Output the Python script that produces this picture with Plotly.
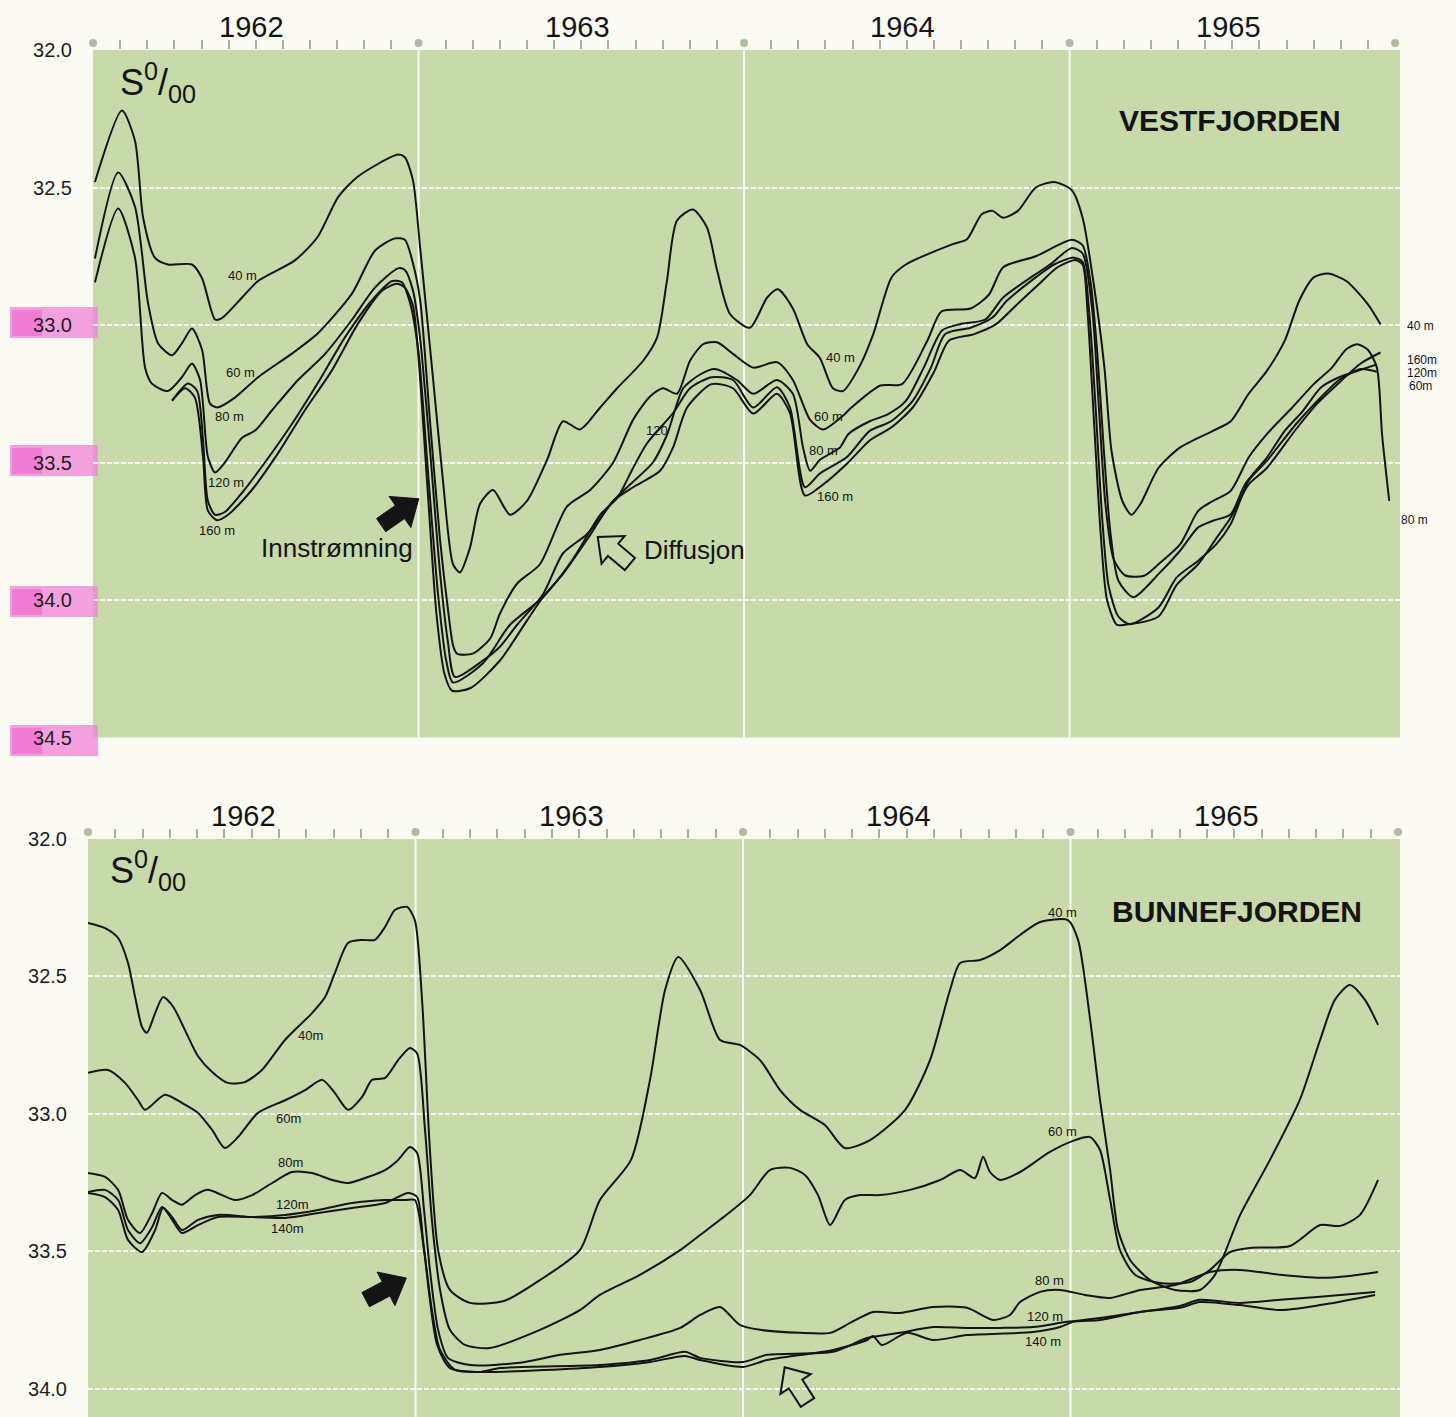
import numpy as np
import plotly.graph_objects as go

W, H = 1456, 1417
INK = "#141414"
PAPER = "#fbfbf4"
FIELD = "#c8d9aa"
GRID = "rgba(255,255,255,0.92)"
TICK = "#a7b29a"
DOT = "#aebd9f"
FONT = "Liberation Sans, Arial, Helvetica, sans-serif"

year_labels = ["1962", "1963", "1964", "1965"]
year_edges = [1962, 1963, 1964, 1965, 1966]

# ---------------- Vestfjorden: salinity (S per mille) by depth, time in decimal years
vest_40_t = [1962.006, 1962.089, 1962.129, 1962.154, 1962.190, 1962.230, 1962.304, 1962.335, 1962.375, 1962.396,
             1962.458, 1962.507, 1962.620, 1962.690, 1962.753, 1962.814, 1962.937, 1962.958, 1962.983, 1963.005,
             1963.045, 1963.075, 1963.106, 1963.127, 1963.158, 1963.189, 1963.229, 1963.281, 1963.333, 1963.395,
             1963.444, 1963.496, 1963.558, 1963.610, 1963.690, 1963.733, 1963.763, 1963.794, 1963.843, 1963.886,
             1963.917, 1963.957, 1964.018, 1964.071, 1964.104, 1964.150, 1964.194, 1964.233, 1964.273, 1964.304,
             1964.353, 1964.397, 1964.453, 1964.497, 1964.641, 1964.685, 1964.730, 1964.763, 1964.796, 1964.841,
             1964.896, 1964.952, 1965.007, 1965.040, 1965.074, 1965.107, 1965.129, 1965.162, 1965.190, 1965.218,
             1965.273, 1965.340, 1965.440, 1965.495, 1965.550, 1965.606, 1965.661, 1965.706, 1965.750, 1965.794,
             1965.850, 1965.916, 1965.955]
vest_40_s = [32.48, 32.22, 32.33, 32.61, 32.755, 32.78, 32.78, 32.83, 32.98, 32.975,
             32.90, 32.84, 32.765, 32.68, 32.535, 32.46, 32.38, 32.39, 32.475, 32.72,
             33.20, 33.565, 33.87, 33.90, 33.81, 33.65, 33.60, 33.69, 33.64, 33.49,
             33.35, 33.38, 33.30, 33.23, 33.13, 33.045, 32.84, 32.62, 32.58, 32.645,
             32.80, 32.96, 33.01, 32.90, 32.87, 32.94, 33.07, 33.12, 33.23, 33.24,
             33.155, 33.033, 32.827, 32.78, 32.706, 32.688, 32.597, 32.585, 32.61, 32.585,
             32.50, 32.48, 32.51, 32.61, 32.85, 33.155, 33.46, 33.64, 33.69, 33.65,
             33.52, 33.445, 33.385, 33.35, 33.25, 33.167, 33.057, 32.91, 32.827, 32.813,
             32.84, 32.924, 32.997]

vest_60_t = [1962.006, 1962.077, 1962.129, 1962.169, 1962.200, 1962.243, 1962.273, 1962.304, 1962.335, 1962.359,
             1962.381, 1962.436, 1962.507, 1962.611, 1962.691, 1962.796, 1962.866, 1962.928, 1962.958, 1962.983,
             1963.005, 1963.035, 1963.066, 1963.091, 1963.106, 1963.118, 1963.167, 1963.220, 1963.250, 1963.303,
             1963.373, 1963.456, 1963.527, 1963.598, 1963.659, 1963.711, 1963.751, 1963.794, 1963.834, 1963.874,
             1963.917, 1963.966, 1964.028, 1964.101, 1964.150, 1964.203, 1964.243, 1964.304, 1964.330, 1964.419,
             1964.485, 1964.563, 1964.607, 1964.696, 1964.752, 1964.796, 1964.896, 1965.007, 1965.040, 1965.065,
             1965.085, 1965.105, 1965.125, 1965.150, 1965.196, 1965.273, 1965.340, 1965.395, 1965.440, 1965.495,
             1965.539, 1965.606, 1965.661, 1965.717, 1965.772, 1965.828, 1965.883, 1965.944]
vest_60_s = [32.758, 32.445, 32.57, 32.92, 33.067, 33.11, 33.067, 33.013, 33.09, 33.285,
             33.30, 33.264, 33.19, 33.104, 33.03, 32.885, 32.73, 32.685, 32.69, 32.776,
             32.91, 33.346, 33.78, 34.04, 34.165, 34.195, 34.195, 34.14, 34.05, 33.94,
             33.87, 33.66, 33.60, 33.50, 33.345, 33.26, 33.23, 33.25, 33.13, 33.07,
             33.063, 33.105, 33.155, 33.135, 33.20, 33.345, 33.38, 33.33, 33.30, 33.22,
             33.215, 33.057, 32.95, 32.94, 32.89, 32.79, 32.75, 32.69, 32.71, 32.85,
             33.10, 33.45, 33.75, 33.93, 33.99, 33.906, 33.82, 33.736, 33.712, 33.688,
             33.579, 33.482, 33.385, 33.312, 33.227, 33.19, 33.167, 33.143]

vest_80_t = [1962.006, 1962.077, 1962.129, 1962.160, 1962.181, 1962.230, 1962.273, 1962.304, 1962.329, 1962.353,
             1962.375, 1962.405, 1962.458, 1962.498, 1962.550, 1962.630, 1962.713, 1962.796, 1962.866, 1962.937,
             1962.958, 1962.983, 1963.005, 1963.035, 1963.066, 1963.090, 1963.112, 1963.198, 1963.250, 1963.303,
             1963.382, 1963.444, 1963.518, 1963.598, 1963.659, 1963.720, 1963.763, 1963.813, 1963.865, 1963.910,
             1963.978, 1964.028, 1964.101, 1964.150, 1964.181, 1964.203, 1964.233, 1964.295, 1964.320, 1964.386,
             1964.441, 1964.497, 1964.552, 1964.608, 1964.663, 1964.741, 1964.796, 1964.896, 1964.940, 1965.007,
             1965.040, 1965.070, 1965.090, 1965.110, 1965.135, 1965.170, 1965.229, 1965.273, 1965.340, 1965.395,
             1965.440, 1965.495, 1965.550, 1965.606, 1965.684, 1965.750, 1965.806, 1965.850, 1965.883, 1965.916,
             1965.944, 1965.960, 1965.982]
vest_80_s = [32.845, 32.576, 32.755, 33.155, 33.213, 33.24, 33.19, 33.14, 33.20, 33.48,
             33.536, 33.50, 33.41, 33.384, 33.31, 33.20, 33.105, 32.98, 32.864, 32.794,
             32.80, 32.875, 33.05, 33.45, 33.90, 34.15, 34.28, 34.22, 34.17, 34.09,
             33.98, 33.83, 33.76, 33.64, 33.57, 33.50, 33.40, 33.23, 33.18, 33.16,
             33.20, 33.25, 33.20, 33.25, 33.445, 33.53, 33.49, 33.445, 33.397, 33.35,
             33.325, 33.276, 33.155, 33.02, 32.997, 32.98, 32.90, 32.815, 32.78, 32.72,
             32.74, 32.95, 33.30, 33.65, 33.85, 33.91, 33.912, 33.87, 33.797, 33.676,
             33.64, 33.603, 33.482, 33.397, 33.30, 33.215, 33.155, 33.088, 33.07, 33.09,
             33.155, 33.40, 33.64]

vest_120_t = [1962.243, 1962.292, 1962.320, 1962.338, 1962.353, 1962.375, 1962.405, 1962.458, 1962.528, 1962.611,
              1962.691, 1962.774, 1962.857, 1962.919, 1962.949, 1962.974, 1963.000, 1963.030, 1963.060, 1963.085,
              1963.106, 1963.198, 1963.281, 1963.382, 1963.475, 1963.558, 1963.610, 1963.659, 1963.702, 1963.782,
              1963.834, 1963.900, 1963.966, 1964.028, 1964.101, 1964.141, 1964.187, 1964.233, 1964.316, 1964.386,
              1964.452, 1964.518, 1964.574, 1964.618, 1964.696, 1964.763, 1964.807, 1964.896, 1964.952, 1965.013,
              1965.040, 1965.060, 1965.080, 1965.100, 1965.120, 1965.150, 1965.185, 1965.273, 1965.329, 1965.395,
              1965.451, 1965.495, 1965.550, 1965.606, 1965.695, 1965.761, 1965.828, 1965.894, 1965.944]
vest_120_s = [33.275, 33.213, 33.24, 33.42, 33.64, 33.69, 33.68, 33.61, 33.50, 33.36,
              33.21, 33.045, 32.91, 32.84, 32.845, 32.92, 33.10, 33.55, 33.98, 34.22,
              34.30, 34.23, 34.09, 33.99, 33.85, 33.69, 33.63, 33.52, 33.43, 33.32,
              33.23, 33.19, 33.20, 33.30, 33.226, 33.30, 33.59, 33.54, 33.48, 33.385,
              33.35, 33.276, 33.155, 33.033, 33.01, 32.973, 32.912, 32.827, 32.78, 32.755,
              32.77, 32.95, 33.30, 33.70, 33.95, 34.06, 34.088, 34.027, 33.918, 33.857,
              33.797, 33.724, 33.566, 33.494, 33.361, 33.276, 33.20, 33.16, 33.17]

vest_160_t = [1962.243, 1962.283, 1962.313, 1962.338, 1962.353, 1962.381, 1962.415, 1962.488, 1962.568, 1962.651,
              1962.734, 1962.814, 1962.888, 1962.934, 1962.958, 1962.983, 1963.000, 1963.028, 1963.055, 1963.080,
              1963.103, 1963.160, 1963.250, 1963.333, 1963.382, 1963.444, 1963.518, 1963.598, 1963.659, 1963.742,
              1963.782, 1963.825, 1963.900, 1963.966, 1964.028, 1964.101, 1964.141, 1964.187, 1964.243, 1964.320,
              1964.386, 1964.452, 1964.518, 1964.585, 1964.629, 1964.707, 1964.774, 1964.829, 1964.907, 1964.963,
              1965.018, 1965.040, 1965.055, 1965.075, 1965.095, 1965.115, 1965.145, 1965.170, 1965.273, 1965.329,
              1965.395, 1965.451, 1965.495, 1965.550, 1965.606, 1965.695, 1965.761, 1965.828, 1965.894, 1965.955]
vest_160_s = [33.275, 33.23, 33.264, 33.48, 33.675, 33.71, 33.69, 33.60, 33.467, 33.31,
              33.165, 32.995, 32.875, 32.85, 32.864, 32.93, 33.12, 33.60, 34.05, 34.27,
              34.33, 34.32, 34.22, 34.075, 33.99, 33.905, 33.78, 33.64, 33.59, 33.53,
              33.445, 33.30, 33.215, 33.23, 33.322, 33.25, 33.32, 33.62, 33.58, 33.50,
              33.42, 33.373, 33.30, 33.167, 33.057, 33.033, 32.997, 32.936, 32.85, 32.79,
              32.764, 32.78, 32.95, 33.35, 33.75, 34.00, 34.09, 34.09, 34.06, 33.945,
              33.87, 33.775, 33.70, 33.58, 33.52, 33.38, 33.285, 33.21, 33.14, 33.10]

# ---------------- Bunnefjorden
bunne_40_t = [1962.000, 1962.052, 1962.092, 1962.122, 1962.144, 1962.165, 1962.180, 1962.205, 1962.229, 1962.260,
              1962.296, 1962.336, 1962.379, 1962.427, 1962.479, 1962.531, 1962.602, 1962.684, 1962.724, 1962.754,
              1962.794, 1962.837, 1962.876, 1962.907, 1962.937, 1962.974, 1962.998, 1963.020, 1963.044, 1963.069,
              1963.105, 1963.166, 1963.270, 1963.380, 1963.502, 1963.563, 1963.658, 1963.716, 1963.762, 1963.802,
              1963.869, 1963.930, 1963.990, 1964.052, 1964.113, 1964.174, 1964.250, 1964.311, 1964.388, 1964.495,
              1964.571, 1964.632, 1964.663, 1964.724, 1964.785, 1964.846, 1964.907, 1964.992, 1965.023, 1965.060,
              1965.090, 1965.121, 1965.145, 1965.182, 1965.243, 1965.319, 1965.395, 1965.441, 1965.518, 1965.609,
              1965.700, 1965.762, 1965.807, 1965.853, 1965.899, 1965.939]
bunne_40_s = [32.305, 32.324, 32.36, 32.45, 32.575, 32.684, 32.705, 32.633, 32.575, 32.61,
              32.695, 32.79, 32.847, 32.887, 32.884, 32.84, 32.73, 32.633, 32.575, 32.487,
              32.378, 32.367, 32.367, 32.32, 32.258, 32.247, 32.295, 32.585, 33.131, 33.495,
              33.64, 33.687, 33.68, 33.604, 33.495, 33.313, 33.167, 32.876, 32.549, 32.429,
              32.549, 32.731, 32.749, 32.804, 32.913, 32.985, 33.04, 33.124, 33.095, 32.985,
              32.804, 32.549, 32.451, 32.44, 32.404, 32.349, 32.302, 32.295, 32.367, 32.658,
              32.949, 33.204, 33.422, 33.531, 33.604, 33.64, 33.64, 33.585, 33.367, 33.167,
              32.949, 32.731, 32.585, 32.531, 32.585, 32.676]

bunne_60_t = [1962.000, 1962.061, 1962.113, 1962.153, 1962.174, 1962.235, 1962.287, 1962.336, 1962.379, 1962.418,
              1962.458, 1962.519, 1962.602, 1962.663, 1962.715, 1962.754, 1962.794, 1962.837, 1962.867, 1962.907,
              1962.947, 1962.983, 1963.005, 1963.029, 1963.050, 1963.075, 1963.105, 1963.151, 1963.227, 1963.380,
              1963.502, 1963.563, 1963.685, 1963.808, 1963.869, 1963.930, 1964.021, 1964.082, 1964.144, 1964.189,
              1964.229, 1964.266, 1964.311, 1964.357, 1964.418, 1964.510, 1964.602, 1964.663, 1964.708, 1964.733,
              1964.754, 1964.785, 1964.846, 1964.937, 1965.014, 1965.060, 1965.090, 1965.121, 1965.151, 1965.197,
              1965.273, 1965.365, 1965.426, 1965.487, 1965.548, 1965.670, 1965.762, 1965.823, 1965.884, 1965.939]
bunne_60_s = [32.85, 32.84, 32.887, 32.95, 32.985, 32.93, 32.96, 32.996, 33.058, 33.124,
              33.084, 32.996, 32.95, 32.913, 32.876, 32.924, 32.985, 32.938, 32.876, 32.869,
              32.804, 32.76, 32.78, 33.058, 33.385, 33.64, 33.785, 33.84, 33.851, 33.785,
              33.713, 33.658, 33.585, 33.495, 33.44, 33.385, 33.295, 33.204, 33.196, 33.222,
              33.295, 33.404, 33.313, 33.295, 33.295, 33.276, 33.24, 33.204, 33.233, 33.156,
              33.211, 33.24, 33.211, 33.138, 33.095, 33.084, 33.131, 33.313, 33.495, 33.585,
              33.615, 33.611, 33.567, 33.502, 33.487, 33.48, 33.404, 33.407, 33.367, 33.24]

bunne_80_t = [1962.000, 1962.052, 1962.092, 1962.122, 1962.159, 1962.196, 1962.226, 1962.257, 1962.287, 1962.327,
              1962.366, 1962.409, 1962.449, 1962.501, 1962.562, 1962.623, 1962.684, 1962.745, 1962.794, 1962.855,
              1962.907, 1962.947, 1962.983, 1963.005, 1963.026, 1963.044, 1963.069, 1963.099, 1963.166, 1963.319,
              1963.441, 1963.563, 1963.685, 1963.808, 1963.869, 1963.930, 1963.990, 1964.052, 1964.174, 1964.266,
              1964.327, 1964.397, 1964.479, 1964.580, 1964.684, 1964.763, 1964.815, 1964.846, 1964.907, 1964.968,
              1965.044, 1965.121, 1965.212, 1965.319, 1965.426, 1965.518, 1965.640, 1965.762, 1965.853, 1965.939]
bunne_80_s = [33.215, 33.229, 33.276, 33.385, 33.433, 33.36, 33.287, 33.313, 33.33, 33.295,
              33.276, 33.295, 33.313, 33.295, 33.251, 33.211, 33.215, 33.24, 33.251, 33.229,
              33.204, 33.167, 33.12, 33.142, 33.349, 33.567, 33.785, 33.887, 33.913, 33.905,
              33.876, 33.858, 33.822, 33.778, 33.731, 33.702, 33.767, 33.785, 33.796, 33.796,
              33.76, 33.72, 33.724, 33.702, 33.705, 33.749, 33.731, 33.684, 33.647, 33.64,
              33.658, 33.669, 33.64, 33.622, 33.575, 33.567, 33.585, 33.596, 33.589, 33.575]

bunne_120_t = [1962.000, 1962.052, 1962.092, 1962.122, 1962.159, 1962.196, 1962.226, 1962.257, 1962.287, 1962.336,
               1962.397, 1962.501, 1962.602, 1962.703, 1962.806, 1962.907, 1962.977, 1963.005, 1963.023, 1963.044,
               1963.066, 1963.105, 1963.197, 1963.258, 1963.563, 1963.716, 1963.823, 1963.869, 1964.000, 1964.073,
               1964.275, 1964.379, 1964.479, 1964.580, 1964.684, 1964.785, 1964.885, 1964.989, 1965.090, 1965.212,
               1965.334, 1965.395, 1965.518, 1965.640, 1965.762, 1965.930]
bunne_120_s = [33.284, 33.276, 33.313, 33.422, 33.47, 33.411, 33.338, 33.375, 33.422, 33.385,
               33.367, 33.375, 33.378, 33.36, 33.342, 33.324, 33.287, 33.302, 33.458, 33.676,
               33.84, 33.924, 33.938, 33.924, 33.913, 33.895, 33.865, 33.887, 33.902, 33.876,
               33.865, 33.815, 33.796, 33.775, 33.778, 33.778, 33.775, 33.756, 33.742, 33.72,
               33.698, 33.676, 33.687, 33.676, 33.665, 33.647]

bunne_140_t = [1962.000, 1962.052, 1962.092, 1962.122, 1962.165, 1962.205, 1962.229, 1962.257, 1962.287, 1962.336,
               1962.397, 1962.501, 1962.602, 1962.703, 1962.806, 1962.907, 1962.968, 1962.998, 1963.026, 1963.050,
               1963.075, 1963.121, 1963.227, 1963.563, 1963.716, 1963.823, 1963.869, 1964.000, 1964.073, 1964.275,
               1964.379, 1964.397, 1964.424, 1964.501, 1964.580, 1964.684, 1964.885, 1964.968, 1965.008, 1965.090,
               1965.212, 1965.334, 1965.395, 1965.518, 1965.640, 1965.762, 1965.930]
bunne_140_s = [33.287, 33.302, 33.349, 33.458, 33.502, 33.422, 33.342, 33.385, 33.433, 33.404,
               33.375, 33.375, 33.367, 33.349, 33.324, 33.313, 33.313, 33.313, 33.495, 33.713,
               33.858, 33.931, 33.938, 33.92, 33.902, 33.88, 33.895, 33.92, 33.895, 33.858,
               33.822, 33.807, 33.84, 33.796, 33.822, 33.804, 33.793, 33.775, 33.756, 33.749,
               33.72, 33.705, 33.684, 33.695, 33.713, 33.695, 33.658]

vest_ticks = [32.0, 32.5, 33.0, 33.5, 34.0, 34.5]
bunne_ticks = [32.0, 32.5, 33.0, 33.5, 34.0]

# panel geometry in pixels: (left, right, top of field, bottom of field, x-range end, dot row)
VEST_BOX = dict(left=93, right=1400, top=50, bottom=737.5, xmax=1966.015, dot_row=43)
BUNNE_BOX = dict(left=88, right=1400, top=839, bottom=H, xmax=1966.006, dot_row=832)

fig = go.Figure()


def curve(t, s, xa, ya):
    fig.add_trace(go.Scatter(
        x=t, y=s, xaxis=xa, yaxis=ya, mode="lines",
        line=dict(color=INK, width=2.0, shape="spline", smoothing=0.7),
        hoverinfo="skip", showlegend=False))


for t, s in [(vest_40_t, vest_40_s), (vest_60_t, vest_60_s), (vest_80_t, vest_80_s),
             (vest_120_t, vest_120_s), (vest_160_t, vest_160_s)]:
    curve(t, s, "x", "y")
for t, s in [(bunne_40_t, bunne_40_s), (bunne_60_t, bunne_60_s), (bunne_80_t, bunne_80_s),
             (bunne_120_t, bunne_120_s), (bunne_140_t, bunne_140_s)]:
    curve(t, s, "x2", "y2")

month_ticks = [1962 + m / 12 for m in range(1, 48) if m % 12]


def time_axis(box, anchor):
    return dict(domain=[box["left"] / W, box["right"] / W], range=[1962, box["xmax"]], anchor=anchor,
                side="top", tickmode="array", tickvals=month_ticks, ticks="outside", ticklen=9,
                tickwidth=1.5, tickcolor=TICK, showticklabels=False, automargin=False,
                showgrid=False, zeroline=False, showline=False, fixedrange=True)


def sal_axis(box, rng, anchor, vals):
    return dict(domain=[1 - box["bottom"] / H, 1 - box["top"] / H], range=rng, anchor=anchor,
                automargin=False, tickmode="array", tickvals=vals,
                ticktext=[f"{v:.1f}" for v in vals],
                ticks="outside", ticklen=16, tickcolor="rgba(0,0,0,0)",
                tickfont=dict(family=FONT, size=20, color="#1d1d1d"),
                showgrid=True, gridcolor=GRID, gridwidth=1.5, griddash="5px,2px",
                zeroline=False, showline=False, fixedrange=True)


shapes = []
# year separators
for yr in [1963, 1964, 1965]:
    for xa, ya in [("x", "y"), ("x2", "y2")]:
        shapes.append(dict(type="line", xref=xa, yref=ya + " domain", x0=yr, x1=yr, y0=0, y1=1,
                           line=dict(color=GRID, width=2), layer="below"))

# round markers at the year boundaries of each time scale
for box in (VEST_BOX, BUNNE_BOX):
    span = box["right"] - box["left"]
    for yr in year_edges:
        cx = box["left"] + (yr - 1962) / (box["xmax"] - 1962) * span
        cy = box["dot_row"]
        shapes.append(dict(type="circle", xref="paper", yref="paper",
                           x0=(cx - 4) / W, x1=(cx + 4) / W, y0=1 - (cy + 4) / H, y1=1 - (cy - 4) / H,
                           fillcolor=DOT, line=dict(width=0), layer="above"))

# highlighter marks behind the upper panel's labels (pixel rows of the label centres)
for py in [322, 460, 601, 740]:
    shapes.append(dict(type="rect", xref="paper", yref="paper", x0=10 / W, x1=98 / W,
                       y0=1 - (py + 16) / H, y1=1 - (py - 15) / H, fillcolor="rgba(242,130,215,0.75)",
                       line=dict(width=0), layer="below"))
    shapes.append(dict(type="rect", xref="paper", yref="paper", x0=12 / W, x1=42 / W,
                       y0=1 - (py + 14) / H, y1=1 - (py - 12) / H, fillcolor="rgba(236,70,195,0.4)",
                       line=dict(width=0), layer="below"))


def block_arrow(angle, length=46, shaft=8, head=19, head_len=23):
    pts = [(-length / 2, -shaft), (length / 2 - head_len, -shaft), (length / 2 - head_len, -head),
           (length / 2, 0), (length / 2 - head_len, head), (length / 2 - head_len, shaft),
           (-length / 2, shaft)]
    a = np.radians(angle)
    rot = [(x * np.cos(a) - y * np.sin(a), x * np.sin(a) + y * np.cos(a)) for x, y in pts]
    return "M " + " L ".join(f"{x:.1f},{y:.1f}" for x, y in rot) + " Z"


def arrow_shape(xa, ya, xc, yc, angle, filled, **kw):
    return dict(type="path", xref=xa, yref=ya, xsizemode="pixel", ysizemode="pixel",
                xanchor=xc, yanchor=yc, path=block_arrow(angle, **kw),
                fillcolor=INK if filled else "rgba(0,0,0,0)",
                line=dict(color=INK, width=1 if filled else 2), layer="above")


shapes.append(arrow_shape("x", "y", 1962.943, 33.68, 35, True))
shapes.append(arrow_shape("x", "y", 1963.600, 33.82, 140, False, length=42, shaft=8, head=18, head_len=20))
shapes.append(arrow_shape("x2", "y2", 1962.910, 33.636, 28, True))
shapes.append(arrow_shape("x2", "y2", 1964.162, 33.985, 123, False, length=42, shaft=8, head=18, head_len=20))

ann = []


def label(text, x, y, xref, yref, size=13, **kw):
    d = dict(text=text, x=x, y=y, xref=xref, yref=yref, showarrow=False,
             xanchor="center", yanchor="middle",
             font=dict(family=FONT, size=size, color=INK))
    d.update(kw)
    ann.append(d)


# depth labels, upper panel
for txt, x, y in [("40 m", 1962.458, 32.82), ("60 m", 1962.452, 33.173), ("80 m", 1962.418, 33.333),
                  ("120 m", 1962.409, 33.573), ("160 m", 1962.381, 33.747), ("120", 1963.733, 33.384),
                  ("40 m", 1964.295, 33.118), ("60 m", 1964.258, 33.333), ("80 m", 1964.243, 33.456),
                  ("160 m", 1964.280, 33.624)]:
    label(txt, x, y, "x", "y")
for txt, px, y in [("40 m", 1420, 33.002), ("160m", 1422, 33.129), ("120m", 1422, 33.176),
                   ("60m", 1420, 33.22), ("80 m", 1414, 33.71)]:
    label(txt, px / W, y, "paper", "y", size=12)

# depth labels, lower panel
for txt, x, y in [("40m", 1962.678, 32.713), ("60m", 1962.611, 33.018), ("80m", 1962.617, 33.175),
                  ("120m", 1962.623, 33.331), ("140m", 1962.608, 33.418), ("40 m", 1964.977, 32.269),
                  ("60 m", 1964.974, 33.065), ("80 m", 1964.937, 33.607), ("120 m", 1964.922, 33.738),
                  ("140 m", 1964.916, 33.829)]:
    label(txt, x, y, "x2", "y2")

# year headings
for i, yl in enumerate(year_labels):
    label(yl, 1962.5 + i, 1 - 27 / H, "x", "paper", size=29, xshift=-4)
    label(yl, 1962.5 + i, 1 - 816 / H, "x2", "paper", size=29, xshift=-8)

label("S<sup>0</sup>/<sub>00</sub>", 118 / W, 1 - 82 / H, "paper", "paper", size=36, xanchor="left")
label("S<sup>0</sup>/<sub>00</sub>", 108 / W, 1 - 870 / H, "paper", "paper", size=36, xanchor="left")
label("<b>VESTFJORDEN</b>", 1230 / W, 1 - 120 / H, "paper", "paper", size=30)
label("<b>BUNNEFJORDEN</b>", 1237 / W, 1 - 911 / H, "paper", "paper", size=30)
label("Innstrømning", 337 / W, 1 - 548 / H, "paper", "paper", size=26)
label("Diffusjon", 642 / W, 1 - 550 / H, "paper", "paper", size=26, xanchor="left")

fig.update_layout(
    width=W, height=H, autosize=False,
    margin=dict(l=0, r=0, t=0, b=0, pad=0, autoexpand=False),
    paper_bgcolor=PAPER, plot_bgcolor=FIELD,
    font=dict(family=FONT, color=INK),
    showlegend=False,
    xaxis=time_axis(VEST_BOX, "y"),
    yaxis=sal_axis(VEST_BOX, [34.5, 32.0], "x", vest_ticks),
    xaxis2=time_axis(BUNNE_BOX, "y2"),
    yaxis2=sal_axis(BUNNE_BOX, [34.102, 32.0], "x2", bunne_ticks),
    shapes=shapes,
    annotations=ann,
)

fig.write_html("out.html")
